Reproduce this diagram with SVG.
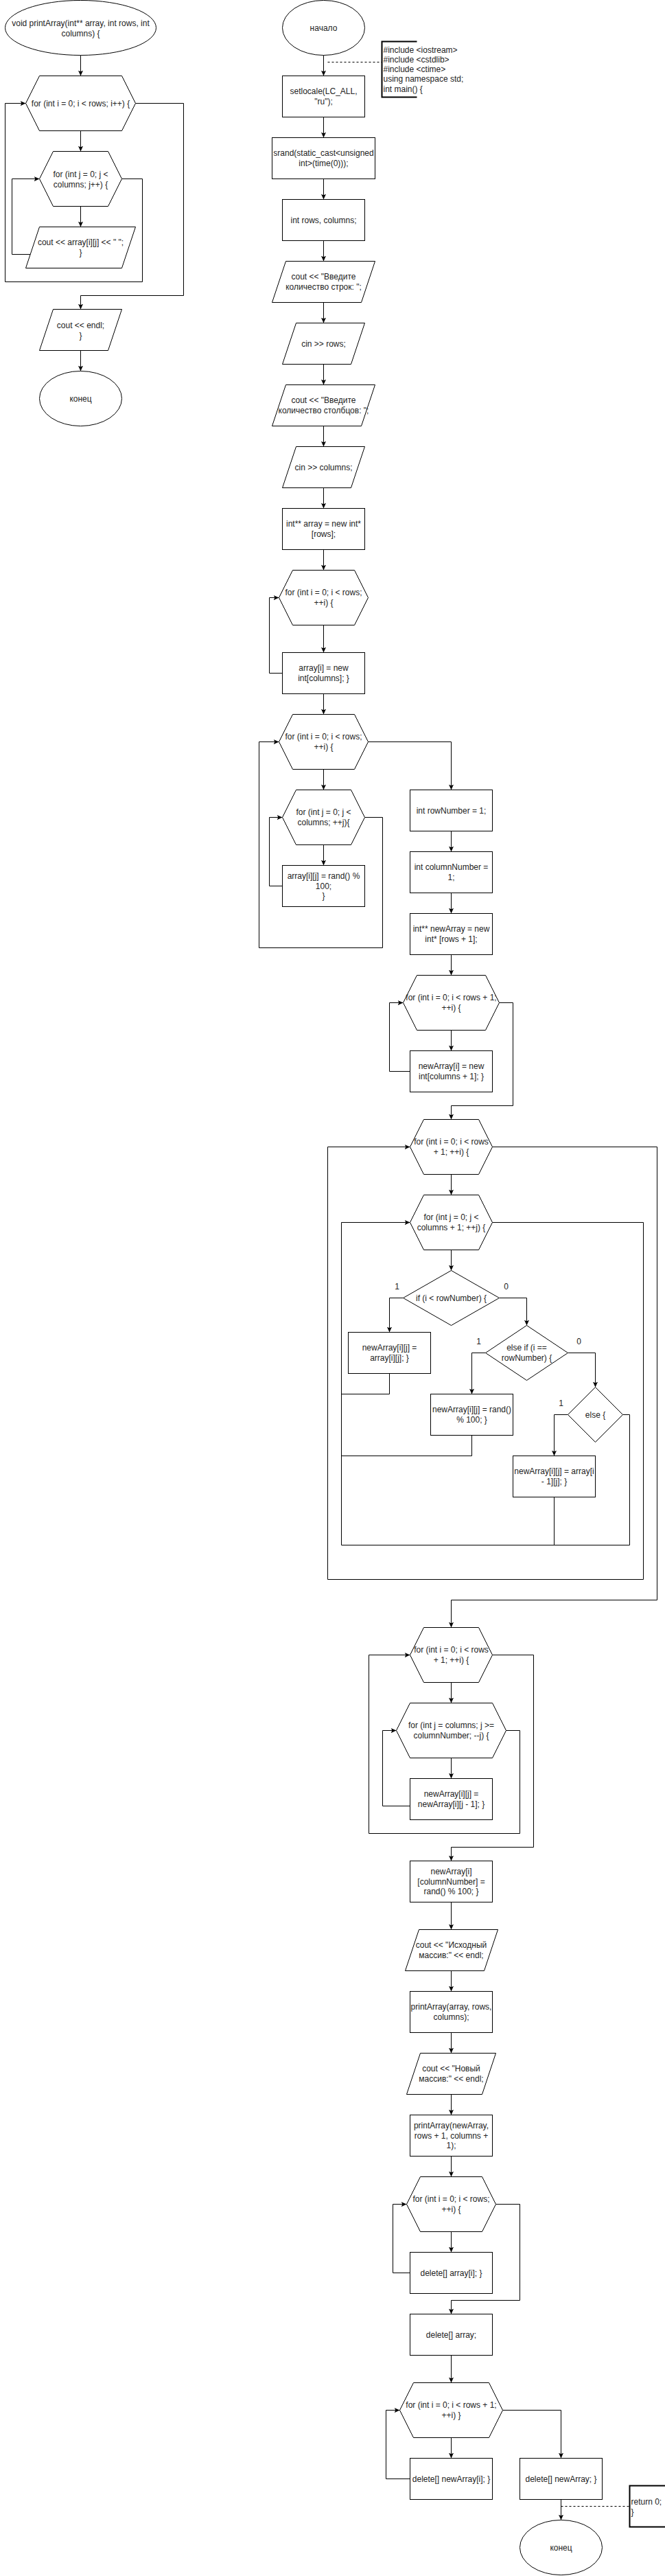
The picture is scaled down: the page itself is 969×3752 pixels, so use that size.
<svg xmlns="http://www.w3.org/2000/svg" width="969" height="3752" viewBox="0 0 969 3752">
<style>
.n{fill:#fff;stroke:#000;stroke-width:1}
.t{font-family:"Liberation Sans",Arial,sans-serif;font-size:12px;fill:#222;text-anchor:middle}
.l{font-family:"Liberation Sans",Arial,sans-serif;font-size:12px;fill:#222;text-anchor:start}
.e{fill:none;stroke:#000;stroke-width:1}
.a{marker-end:url(#arr)}
.d{fill:none;stroke:#000;stroke-width:1;stroke-dasharray:3,3}
.b{fill:none;stroke:#000;stroke-width:2}
</style>
<defs>
<marker id="arr" viewBox="0 0 10 10" refX="10" refY="5" markerWidth="8" markerHeight="8" markerUnits="userSpaceOnUse" orient="auto"><path d="M0,0.5 L10,5 L0,9.5 L2.5,5 z" fill="#000"/></marker>
</defs>
<rect x="0" y="0" width="969" height="3752" fill="#fff"/>
<g transform="translate(0.5,0.5)">
<g id="connectors">
<path class="e a" d="M117,80 V110"/>
<path class="e a" d="M117,190 V220"/>
<path class="e a" d="M117,300 V330"/>
<path class="e a" d="M43.7,370 H17 V260 H57"/>
<path class="e a" d="M177,260 H207 V410 H7 V150 H37"/>
<path class="e a" d="M197,150 H267 V430 H117 V450"/>
<path class="e a" d="M117,510 V540"/>
<path class="e a" d="M471,80 V110"/>
<path class="e a" d="M471,170 V200"/>
<path class="e a" d="M471,260 V290"/>
<path class="e a" d="M471,350 V380"/>
<path class="e a" d="M471,440 V470"/>
<path class="e a" d="M471,530 V560"/>
<path class="e a" d="M471,620 V650"/>
<path class="e a" d="M471,710 V740"/>
<path class="e a" d="M471,800 V830"/>
<path class="e a" d="M471,910 V950"/>
<path class="e a" d="M471,1010 V1040"/>
<path class="e a" d="M471,1120 V1150"/>
<path class="e a" d="M471,1230 V1260"/>
<path class="e a" d="M411,980 H392 V870 H406"/>
<path class="e a" d="M411,1290 H392 V1190 H411"/>
<path class="e a" d="M531,1190 H557 V1380 H377 V1080 H406"/>
<path class="e a" d="M536,1080 H657 V1150"/>
<path class="d" d="M477,90 H556"/>
<path class="e a" d="M657,1210 V1240"/>
<path class="e a" d="M657,1300 V1330"/>
<path class="e a" d="M657,1390 V1420"/>
<path class="e a" d="M657,1500 V1530"/>
<path class="e a" d="M597,1560 H567 V1460 H587"/>
<path class="e a" d="M727,1460 H747 V1610 H657 V1630"/>
<path class="e a" d="M657,1710 V1740"/>
<path class="e a" d="M657,1820 V1850"/>
<path class="e a" d="M587,1890 H567 V1940"/>
<path class="e a" d="M727,1890 H767 V1930"/>
<path class="e a" d="M707,1970 H687 V2030"/>
<path class="e a" d="M827,1970 H867 V2020"/>
<path class="e a" d="M827,2060 H807 V2120"/>
<path class="e" d="M567,2000 V2030 H497"/>
<path class="e" d="M687,2090 V2120 H497"/>
<path class="e" d="M807,2180 V2250"/>
<path class="e a" d="M907,2060 H917 V2250 H497 V1780 H597"/>
<path class="e a" d="M717,1780 H937 V2300 H477 V1670 H597"/>
<path class="e a" d="M717,1670 H957 V2330 H657 V2370"/>
<path class="e a" d="M657,2450 V2480"/>
<path class="e a" d="M657,2560 V2590"/>
<path class="e a" d="M597,2630 H557 V2520 H577"/>
<path class="e a" d="M737,2520 H757 V2670 H537 V2410 H597"/>
<path class="e a" d="M717,2410 H777 V2690 H657 V2710"/>
<path class="e a" d="M657,2770 V2810"/>
<path class="e a" d="M657,2870 V2900"/>
<path class="e a" d="M657,2960 V2990"/>
<path class="e a" d="M657,3050 V3080"/>
<path class="e a" d="M657,3140 V3170"/>
<path class="e a" d="M657,3250 V3280"/>
<path class="e a" d="M597,3310 H572 V3210 H592"/>
<path class="e a" d="M722,3210 H757 V3350 H657 V3370"/>
<path class="e a" d="M657,3430 V3470"/>
<path class="e a" d="M657,3550 V3580"/>
<path class="e a" d="M597,3610 H562 V3510 H582"/>
<path class="e a" d="M732,3510 H817 V3580"/>
<path class="e a" d="M817,3640 V3670"/>
<path class="d" d="M817,3650 H917"/>
</g>

<g id="fn_start"><ellipse class="n" cx="117" cy="40" rx="110" ry="40"/><text class="t" x="117" y="37">void printArray(int** array, int rows, int</text><text class="t" x="117" y="52">columns) {</text></g>
<g id="fn_for_i"><polygon class="n" points="37,150 57,110 177,110 197,150 177,190 57,190"/><text class="t" x="117" y="154">for (int i = 0; i &lt; rows; i++) {</text></g>
<g id="fn_for_j"><polygon class="n" points="57,260 77,220 157,220 177,260 157,300 77,300"/><text class="t" x="117" y="257">for (int j = 0; j &lt;</text><text class="t" x="117" y="272">columns; j++) {</text></g>
<g id="fn_cout"><polygon class="n" points="57,330 197,330 177,390 37,390"/><text class="t" x="117" y="356">cout &lt;&lt; array[i][j] &lt;&lt; " ";</text><text class="t" x="117" y="371">}</text></g>
<g id="fn_endl"><polygon class="n" points="77,450 177,450 157,510 57,510"/><text class="t" x="117" y="477">cout &lt;&lt; endl;</text><text class="t" x="117" y="492">}</text></g>
<g id="fn_end"><ellipse class="n" cx="117" cy="580" rx="60" ry="40"/><text class="t" x="117" y="584">конец</text></g>

<g id="start"><ellipse class="n" cx="471" cy="40" rx="60" ry="40"/><text class="t" x="471" y="44">начало</text></g>
<g id="note_includes"><path class="b" d="M607,60 H556 V141 H607"/>
<text class="l" x="558" y="76">#include &lt;iostream&gt;</text>
<text class="l" x="558" y="90.3">#include &lt;cstdlib&gt;</text>
<text class="l" x="558" y="104.5">#include &lt;ctime&gt;</text>
<text class="l" x="558" y="118.8">using namespace std;</text>
<text class="l" x="558" y="133.1">int main() {</text></g>
<g id="setlocale"><rect class="n" x="411" y="110" width="120" height="60"/><text class="t" x="471" y="136.5">setlocale(LC_ALL,</text><text class="t" x="471" y="151.5">"ru");</text></g>
<g id="srand"><rect class="n" x="396" y="200" width="150" height="60"/><text class="t" x="471" y="226.5">srand(static_cast&lt;unsigned</text><text class="t" x="471" y="241.5">int&gt;(time(0)));</text></g>
<g id="decl"><rect class="n" x="411" y="290" width="120" height="60"/><text class="t" x="471" y="324">int rows, columns;</text></g>
<g id="out_rows"><polygon class="n" points="416,380 546,380 526,440 396,440"/><text class="t" x="471" y="406.5">cout &lt;&lt; "Введите</text><text class="t" x="471" y="421.5">количество строк: ";</text></g>
<g id="in_rows"><polygon class="n" points="431,470 531,470 511,530 411,530"/><text class="t" x="471" y="504">cin &gt;&gt; rows;</text></g>
<g id="out_cols"><polygon class="n" points="416,560 546,560 526,620 396,620"/><text class="t" x="471" y="586.5">cout &lt;&lt; "Введите</text><text class="t" x="471" y="601.5">количество столбцов: ";</text></g>
<g id="in_cols"><polygon class="n" points="431,650 531,650 511,710 411,710"/><text class="t" x="471" y="684">cin &gt;&gt; columns;</text></g>
<g id="alloc"><rect class="n" x="411" y="740" width="120" height="60"/><text class="t" x="471" y="766.5">int** array = new int*</text><text class="t" x="471" y="781.5">[rows];</text></g>
<g id="for_i1"><polygon class="n" points="406,870 426,830 516,830 536,870 516,910 426,910"/><text class="t" x="471" y="866.5">for (int i = 0; i &lt; rows;</text><text class="t" x="471" y="881.5">++i) {</text></g>
<g id="alloc_row"><rect class="n" x="411" y="950" width="120" height="60"/><text class="t" x="471" y="976.5">array[i] = new</text><text class="t" x="471" y="991.5">int[columns]; }</text></g>
<g id="for_i2"><polygon class="n" points="406,1080 426,1040 516,1040 536,1080 516,1120 426,1120"/><text class="t" x="471" y="1076.5">for (int i = 0; i &lt; rows;</text><text class="t" x="471" y="1091.5">++i) {</text></g>
<g id="for_j2"><polygon class="n" points="411,1190 431,1150 511,1150 531,1190 511,1230 431,1230"/><text class="t" x="471" y="1186.5">for (int j = 0; j &lt;</text><text class="t" x="471" y="1201.5">columns; ++j){</text></g>
<g id="fill"><rect class="n" x="411" y="1260" width="120" height="60"/><text class="t" x="471" y="1279.5">array[i][j] = rand() %</text><text class="t" x="471" y="1294">100;</text><text class="t" x="471" y="1308.5">}</text></g>

<g id="rowNumber"><rect class="n" x="597" y="1150" width="120" height="60"/><text class="t" x="657" y="1184">int rowNumber = 1;</text></g>
<g id="columnNumber"><rect class="n" x="597" y="1240" width="120" height="60"/><text class="t" x="657" y="1266.5">int columnNumber =</text><text class="t" x="657" y="1281.5">1;</text></g>
<g id="newArray"><rect class="n" x="597" y="1330" width="120" height="60"/><text class="t" x="657" y="1356.5">int** newArray = new</text><text class="t" x="657" y="1371.5">int* [rows + 1];</text></g>
<g id="for_i3"><polygon class="n" points="587,1460 607,1420 707,1420 727,1460 707,1500 607,1500"/><text class="t" x="657" y="1456.5">for (int i = 0; i &lt; rows + 1;</text><text class="t" x="657" y="1471.5">++i) {</text></g>
<g id="alloc_new_row"><rect class="n" x="597" y="1530" width="120" height="60"/><text class="t" x="657" y="1556.5">newArray[i] = new</text><text class="t" x="657" y="1571.5">int[columns + 1]; }</text></g>
<g id="for_i4"><polygon class="n" points="597,1670 617,1630 697,1630 717,1670 697,1710 617,1710"/><text class="t" x="657" y="1666.5">for (int i = 0; i &lt; rows</text><text class="t" x="657" y="1681.5">+ 1; ++i) {</text></g>
<g id="for_j4"><polygon class="n" points="597,1780 617,1740 697,1740 717,1780 697,1820 617,1820"/><text class="t" x="657" y="1776.5">for (int j = 0; j &lt;</text><text class="t" x="657" y="1791.5">columns + 1; ++j) {</text></g>
<g id="if1"><polygon class="n" points="587,1890 657,1850 727,1890 657,1930"/><text class="t" x="657" y="1894">if (i &lt; rowNumber) {</text><text class="t" x="578" y="1877">1</text><text class="t" x="737" y="1877">0</text></g>
<g id="copy_old"><rect class="n" x="507" y="1940" width="120" height="60"/><text class="t" x="567" y="1966.5">newArray[i][j] =</text><text class="t" x="567" y="1981.5">array[i][j]; }</text></g>
<g id="if2"><polygon class="n" points="707,1970 767,1930 827,1970 767,2010"/><text class="t" x="767" y="1966.5">else if (i ==</text><text class="t" x="767" y="1981.5">rowNumber) {</text><text class="t" x="697" y="1957">1</text><text class="t" x="843" y="1957">0</text></g>
<g id="rand_row"><rect class="n" x="627" y="2030" width="120" height="60"/><text class="t" x="687" y="2056.5">newArray[i][j] = rand()</text><text class="t" x="687" y="2071.5">% 100; }</text></g>
<g id="else3"><polygon class="n" points="827,2060 867,2020 907,2060 867,2100"/><text class="t" x="867" y="2064">else {</text><text class="t" x="817" y="2047">1</text></g>
<g id="copy_shift"><rect class="n" x="747" y="2120" width="120" height="60"/><text class="t" x="807" y="2146.5">newArray[i][j] = array[i</text><text class="t" x="807" y="2161.5">- 1][j]; }</text></g>

<g id="for_i5"><polygon class="n" points="597,2410 617,2370 697,2370 717,2410 697,2450 617,2450"/><text class="t" x="657" y="2406.5">for (int i = 0; i &lt; rows</text><text class="t" x="657" y="2421.5">+ 1; ++i) {</text></g>
<g id="for_j5"><polygon class="n" points="577,2520 597,2480 717,2480 737,2520 717,2560 597,2560"/><text class="t" x="657" y="2516.5">for (int j = columns; j &gt;=</text><text class="t" x="657" y="2531.5">columnNumber; --j) {</text></g>
<g id="shift"><rect class="n" x="597" y="2590" width="120" height="60"/><text class="t" x="657" y="2616.5">newArray[i][j] =</text><text class="t" x="657" y="2631.5">newArray[i][j - 1]; }</text></g>
<g id="new_col"><rect class="n" x="597" y="2710" width="120" height="60"/><text class="t" x="657" y="2729.5">newArray[i]</text><text class="t" x="657" y="2744">[columnNumber] =</text><text class="t" x="657" y="2758.5">rand() % 100; }</text></g>
<g id="out_src"><polygon class="n" points="610,2810 725,2810 705,2870 590,2870"/><text class="t" x="657" y="2836.5">cout &lt;&lt; "Исходный</text><text class="t" x="657" y="2851.5">массив:" &lt;&lt; endl;</text></g>
<g id="print_src"><rect class="n" x="597" y="2900" width="120" height="60"/><text class="t" x="657" y="2926.5">printArray(array, rows,</text><text class="t" x="657" y="2941.5">columns);</text></g>
<g id="out_new"><polygon class="n" points="612,2990 722,2990 702,3050 592,3050"/><text class="t" x="657" y="3016.5">cout &lt;&lt; "Новый</text><text class="t" x="657" y="3031.5">массив:" &lt;&lt; endl;</text></g>
<g id="print_new"><rect class="n" x="597" y="3080" width="120" height="60"/><text class="t" x="657" y="3099.5">printArray(newArray,</text><text class="t" x="657" y="3114">rows + 1, columns +</text><text class="t" x="657" y="3128.5">1);</text></g>
<g id="for_i6"><polygon class="n" points="592,3210 612,3170 702,3170 722,3210 702,3250 612,3250"/><text class="t" x="657" y="3206.5">for (int i = 0; i &lt; rows;</text><text class="t" x="657" y="3221.5">++i) {</text></g>
<g id="del_row"><rect class="n" x="597" y="3280" width="120" height="60"/><text class="t" x="657" y="3314">delete[] array[i]; }</text></g>
<g id="del_arr"><rect class="n" x="597" y="3370" width="120" height="60"/><text class="t" x="657" y="3404">delete[] array;</text></g>
<g id="for_i7"><polygon class="n" points="582,3510 602,3470 712,3470 732,3510 712,3550 602,3550"/><text class="t" x="657" y="3506.5">for (int i = 0; i &lt; rows + 1;</text><text class="t" x="657" y="3521.5">++i) }</text></g>
<g id="del_new_row"><rect class="n" x="597" y="3580" width="120" height="60"/><text class="t" x="657" y="3614">delete[] newArray[i]; }</text></g>
<g id="del_new"><rect class="n" x="757" y="3580" width="120" height="60"/><text class="t" x="817" y="3614">delete[] newArray; }</text></g>
<g id="end"><ellipse class="n" cx="817" cy="3710" rx="60" ry="40"/><text class="t" x="817" y="3714">конец</text></g>
<g id="note_return"><path class="b" d="M975,3620 H917 V3680 H975"/><text class="l" x="919" y="3647">return 0;</text><text class="l" x="919" y="3662">}</text></g>
</g>
</svg>
